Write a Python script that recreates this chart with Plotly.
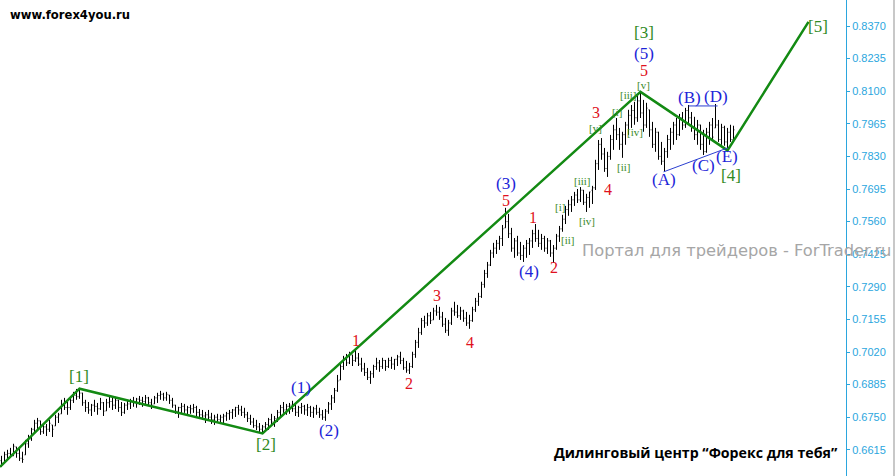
import plotly.graph_objects as go

# Prices in pips (price * 10000), one bar per entry
high_pips = [
    6590,6607,6615,6623,6640,6627,6619,6607,6656,6677,6706,6739,6747,6735,6726,6722,6739,6718,6760,6768,6822,6830,6813,6834,6855,6867,6871,
    6851,6822,6813,6805,6822,6809,6830,6813,6826,6834,6830,6834,6822,6813,6809,6822,6826,6834,6830,6838,6834,6842,6834,6826,6838,6851,6859,6851,6855,6842,6830,6801,6793,6809,6805,6797,6801,6805,6797,6784,6780,6772,6780,6768,6760,6764,6760,6764,6772,6780,6784,6793,6801,6797,6789,6772,6760,6747,6739,6726,6718,
    6730,6747,6764,6755,6780,6801,6813,6805,6809,6818,6805,6797,6809,6801,6805,6797,6793,6801,6789,6780,6784,6813,6842,6871,6925,6975,7004,7012,7021,7008,7029,7016,6996,6975,6954,6942,6967,6996,6987,6996,6987,6996,7000,6991,7008,7021,6996,6983,6975,
    7021,7070,7120,7161,7170,7182,7186,7203,7215,7207,7186,7161,7153,7203,7228,7215,7207,7195,7186,7174,7207,7244,7265,7311,7360,7393,7443,7472,7484,7501,7546,7617,7592,7534,7492,7501,
    7476,7463,7484,7492,7526,7550,7526,7509,7501,7492,7484,7463,7509,7542,7588,7625,7650,7666,7683,7695,7703,7691,7675,7683,7708,7816,7898,
    7906,7865,7849,7919,7961,7989,7948,7932,7973,8023,8043,8056,8080,8097,8064,8052,8023,7973,7948,7932,7890,7865,7919,7948,7973,7989,8006,8014,8031,8043,8014,7994,7981,7961,7940,7948,7973,7989,8047,7981,7965,7957,7948,7961,7957,
]
low_pips = [
    6544,6561,6573,6582,6590,6582,6569,6561,6594,6623,6652,6685,6697,6677,6681,6672,6689,6668,6714,6726,6764,6780,6760,6780,6809,6822,6826,
    6797,6772,6764,6755,6772,6760,6780,6755,6776,6789,6780,6784,6772,6755,6764,6780,6784,6793,6789,6801,6793,6801,6797,6784,6805,6809,6822,6818,6818,6805,6789,6764,6747,6764,6768,6755,6764,6768,6751,6743,6739,6726,6739,6722,6718,6726,6722,6726,6735,6739,6743,6751,6760,6755,6747,6730,6718,6706,6697,6689,6681,
    6689,6697,6714,6710,6730,6755,6768,6760,6764,6772,6755,6751,6764,6760,6755,6751,6747,6760,6747,6739,6735,6764,6780,6809,6855,6904,6946,6962,6970,6962,6979,6962,6938,6921,6904,6888,6913,6946,6938,6950,6942,6954,6950,6946,6962,6970,6946,6934,6929,
    6954,6996,7037,7091,7120,7128,7136,7153,7170,7153,7124,7099,7087,7132,7170,7161,7153,7145,7128,7116,7145,7186,7211,7244,7286,7327,7376,7410,7426,7443,7459,7534,7492,7435,7410,7418,
    7401,7393,7410,7422,7451,7476,7455,7443,7435,7426,7414,7389,7443,7476,7518,7550,7584,7600,7625,7637,7641,7629,7600,7617,7633,7691,7774,
    7816,7766,7745,7816,7857,7898,7857,7824,7878,7919,7948,7961,7973,7989,7932,7948,7911,7865,7849,7816,7795,7766,7824,7857,7878,7898,7915,7940,7948,7965,7932,7898,7878,7857,7836,7845,7878,7898,7948,7890,7878,7874,7865,7890,7898,
]
close_pips = [
    6560,6595,6600,6590,6630,6600,6580,6575,6640,6660,6700,6725,6735,6690,6710,6700,6725,6700,6750,6760,6800,6790,6790,6820,6840,6835,6850,
    6810,6790,6780,6800,6795,6785,6810,6775,6810,6815,6800,6820,6790,6770,6800,6805,6815,6810,6825,6820,6815,6830,6810,6800,6830,6840,6845,6830,6845,6820,6800,6775,6790,6795,6780,6790,6785,6790,6770,6760,6755,6760,6750,6740,6750,6740,6750,6755,6765,6770,6780,6790,6780,6770,6760,6745,6730,6715,6710,6700,6710,
    6720,6740,6730,6745,6770,6790,6780,6795,6800,6785,6770,6790,6795,6780,6790,6770,6785,6770,6760,6750,6775,6805,6830,6860,6900,6960,6990,6975,7010,6985,6995,6970,6950,6935,6915,6930,6960,6975,6960,6985,6960,6985,6970,6990,7000,6985,6955,6945,6960,
    7010,7060,7100,7150,7140,7170,7150,7190,7185,7165,7135,7110,7140,7190,7185,7170,7190,7160,7140,7150,7195,7230,7250,7300,7345,7380,7430,7450,7470,7490,7530,7560,7510,7450,7480,7430,
    7420,7450,7470,7480,7510,7490,7470,7490,7450,7480,7430,7450,7500,7530,7570,7610,7630,7650,7670,7650,7690,7640,7660,7690,7700,7800,7880,
    7840,7780,7830,7900,7940,7920,7880,7920,7960,8000,8020,7990,8060,8010,7960,8030,7940,7880,7930,7830,7810,7850,7900,7930,7960,7920,7990,7960,8020,7990,7950,7920,7960,7880,7850,7930,7960,7910,7960,7900,7950,7890,7930,7900,7940,
]
first_open_pips = 6570

# Elliott wave main count (bar index, price)
wave_bars = [-0.5, 26, 87, 213, 242, 269]
wave_prices = [0.6544, 0.6868, 0.6683, 0.8097, 0.7855, 0.8387]

# triangle boundary lines
ace_bars = [220.7, 242]
ace_prices = [0.7766, 0.7865]
bd_bars = [229, 238.7]
bd_prices = [0.8039, 0.8039]

y_ticks = [0.8370, 0.8235, 0.8100, 0.7965, 0.7830, 0.7695, 0.7560, 0.7425,
           0.7290, 0.7155, 0.7020, 0.6885, 0.6750, 0.6615]

big_green = [("[1]", 25.7, 0.6917), ("[2]", 88, 0.6636), ("[3]", 214, 0.8345),
             ("[4]", 243, 0.7749), ("[5]", 272, 0.8366)]
blue_labels = [("(1)", 99.7, 0.6871), ("(2)", 109.3, 0.6697), ("(3)", 168.3, 0.7717),
               ("(4)", 175.7, 0.7352), ("(5)", 214, 0.8256), ("(A)", 220.7, 0.7733),
               ("(B)", 229.3, 0.8076), ("(C)", 234, 0.7791), ("(D)", 238, 0.8080),
               ("(E)", 241.7, 0.7828)]
red_labels = [("1", 118, 0.7066), ("2", 135.7, 0.6888), ("3", 145, 0.7252),
              ("4", 156.3, 0.7058), ("5", 168.3, 0.7648), ("1", 177.3, 0.7579),
              ("2", 184.3, 0.7368), ("3", 198, 0.8010), ("4", 202, 0.7691),
              ("5", 214, 0.8186)]
small_green = [("[i]", 186, 0.7621), ("[ii]", 188.7, 0.7484), ("[iii]", 193.7, 0.7729),
               ("[iv]", 195.3, 0.7563), ("[v]", 198, 0.7948), ("[i]", 205, 0.8014),
               ("[ii]", 207.3, 0.7786), ("[iii]", 209, 0.8085), ("[iv]", 211.3, 0.7931),
               ("[v]", 214, 0.8124)]

n = len(high_pips)
highs = [h / 10000 for h in high_pips]
lows = [l / 10000 for l in low_pips]
closes = [min(max(c, l), h) / 10000 for c, l, h in zip(close_pips, low_pips, high_pips)]
opens = [first_open_pips / 10000] + [min(max(close_pips[i - 1], low_pips[i]), high_pips[i]) / 10000 for i in range(1, n)]
bars = list(range(n))

fig = go.Figure()
fig.add_trace(go.Ohlc(x=bars, open=opens, high=highs, low=lows, close=closes,
                      increasing=dict(line=dict(color="black", width=1)),
                      decreasing=dict(line=dict(color="black", width=1)),
                      tickwidth=0.3, hoverinfo="skip", showlegend=False))
fig.add_trace(go.Scatter(x=wave_bars, y=wave_prices, mode="lines",
                         line=dict(color="#138a13", width=2.5), showlegend=False, hoverinfo="skip"))
fig.add_trace(go.Scatter(x=ace_bars, y=ace_prices, mode="lines",
                         line=dict(color="#2b3fd0", width=1), showlegend=False, hoverinfo="skip"))
fig.add_trace(go.Scatter(x=bd_bars, y=bd_prices, mode="lines",
                         line=dict(color="#2b3fd0", width=1), showlegend=False, hoverinfo="skip"))

ann = []
serif = "Liberation Serif, Times New Roman, serif"
for t, x, y in big_green:
    ann.append(dict(text=t, x=x, y=y, xref="x", yref="y", showarrow=False,
                    font=dict(family=serif, size=17, color="#2f8a22")))
for t, x, y in blue_labels:
    ann.append(dict(text=t, x=x, y=y, xref="x", yref="y", showarrow=False,
                    font=dict(family=serif, size=17, color="#1c24d8")))
for t, x, y in red_labels:
    ann.append(dict(text=t, x=x, y=y, xref="x", yref="y", showarrow=False,
                    font=dict(family=serif, size=16, color="#e01020")))
for t, x, y in small_green:
    ann.append(dict(text=t, x=x, y=y, xref="x", yref="y", showarrow=False,
                    font=dict(family=serif, size=11, color="#3a8a28")))

ann.append(dict(text="www.forex4you.ru", x=8 / 846, y=1 - 15 / 476, xref="paper", yref="paper",
                xanchor="left", yanchor="middle", showarrow=False,
                font=dict(family="DejaVu Sans", size=11.6, color="black", weight="bold")))
ann.append(dict(text="Портал для трейдеров - ForTrader.ru", x=736 / 846, y=1 - 250 / 476,
                xref="paper", yref="paper", xanchor="center", yanchor="middle", showarrow=False,
                font=dict(family="DejaVu Sans", size=16.3, color="#a6a6a6")))
ann.append(dict(text="Дилинговый центр “Форекс для тебя”", x=840 / 846, y=1 - 452 / 476,
                xref="paper", yref="paper", xanchor="right", yanchor="middle", showarrow=False,
                font=dict(family="Open Sans", size=14.2, color="black", weight="bold")))

fig.update_layout(
    width=895, height=476,
    margin=dict(l=0, r=49, t=0, b=0),
    paper_bgcolor="white", plot_bgcolor="white",
    annotations=ann,
    hovermode=False,
    shapes=[dict(type="rect", xref="paper", yref="paper", x0=893 / 846, x1=895 / 846, y0=0, y1=1,
                 fillcolor="#c8c8c8", line=dict(width=0), layer="above")],
    xaxis=dict(range=[-0.5, 281.5], showgrid=False, zeroline=False, showticklabels=False,
               ticks="", rangeslider=dict(visible=False), showline=False, fixedrange=True),
    yaxis=dict(side="right", range=[0.65065, 0.84777], showgrid=False, zeroline=False,
               tickvals=y_ticks, ticktext=[f"{v:.4f}" for v in y_ticks],
               tickfont=dict(family="Liberation Sans, Arial", size=11, color="#2ba6de"),
               ticks="outside", ticklen=3, tickcolor="#2ba6de",
               showline=True, linecolor="#2ba6de", linewidth=1, fixedrange=True),
)
fig.write_html("out.html", config={"displayModeBar": False},
               post_script="document.body.style.margin='0';document.body.style.overflow='hidden';")
